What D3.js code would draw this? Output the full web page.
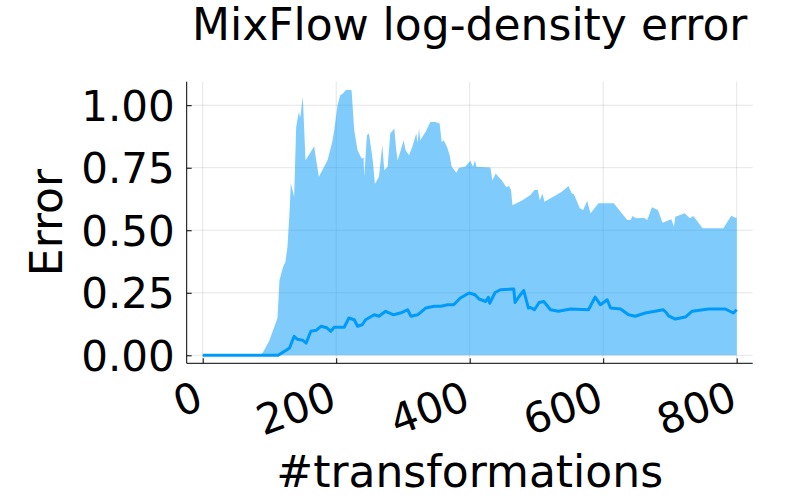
<!DOCTYPE html>
<html>
<head>
<meta charset="utf-8">
<script src="https://cdn.jsdelivr.net/npm/d3@7"></script>
<style>
  body { margin: 0; background: #fff; }
  svg text { font-family: "DejaVu Sans", sans-serif; fill: #000; }
</style>
</head>
<body>
<svg id="chart" width="800" height="500"></svg>
<script>
// data
var bandX = [0, 85, 90, 100, 112, 115, 120, 124, 127, 130, 132, 137, 140, 144, 146, 150, 154, 162, 167, 170, 174, 187, 194, 197, 202, 206, 210, 214, 219, 223, 227, 232, 238, 241, 242, 246, 249, 253, 255, 258, 264, 269, 272, 277, 281, 287, 290, 292, 296, 301, 304, 309, 314, 320, 322, 324, 326, 334, 341, 349, 355, 358, 361, 366, 370, 373, 380, 384, 393, 401, 405, 408, 410, 431, 434, 439, 443, 448, 455, 459, 462, 464, 479, 491, 497, 502, 505, 509, 512, 538, 548, 553, 556, 565, 570, 576, 581, 593, 616, 626, 636, 641, 644, 649, 661, 666, 673, 682, 689, 702, 706, 708, 722, 730, 735, 749, 780, 792, 798, 800];
var bandUpper = [0, 0, 0.01, 0.06, 0.149, 0.30, 0.35, 0.375, 0.435, 0.57, 0.688, 0.634, 0.913, 0.973, 0.95, 1.033, 0.78, 0.814, 0.836, 0.78, 0.714, 0.78, 0.853, 0.9, 1.0, 1.04, 1.047, 1.06, 1.062, 1.06, 0.9, 0.82, 0.787, 0.79, 0.714, 0.88, 0.887, 0.814, 0.774, 0.685, 0.714, 0.84, 0.74, 0.754, 0.887, 0.907, 0.82, 0.78, 0.814, 0.86, 0.82, 0.80, 0.834, 0.887, 0.85, 0.907, 0.86, 0.894, 0.933, 0.933, 0.927, 0.853, 0.86, 0.834, 0.80, 0.754, 0.73, 0.75, 0.754, 0.778, 0.754, 0.78, 0.754, 0.751, 0.70, 0.727, 0.714, 0.70, 0.672, 0.677, 0.66, 0.60, 0.62, 0.641, 0.661, 0.661, 0.62, 0.647, 0.614, 0.654, 0.677, 0.647, 0.645, 0.588, 0.581, 0.618, 0.568, 0.608, 0.608, 0.574, 0.541, 0.541, 0.557, 0.548, 0.55, 0.541, 0.592, 0.581, 0.53, 0.544, 0.515, 0.554, 0.568, 0.548, 0.557, 0.508, 0.508, 0.558, 0.55, 0.55];
var bandLower = bandX.map(function () { return 0; });

var meanX = [0, 113, 120, 125, 130, 137, 142, 150, 155, 162, 170, 177, 186, 192, 197, 212, 219, 227, 232, 239, 244, 257, 264, 274, 286, 296, 307, 312, 322, 334, 347, 357, 367, 376, 386, 399, 408, 414, 424, 428, 430, 438, 446, 466, 468, 474, 481, 488, 491, 497, 504, 511, 521, 533, 551, 578, 588, 596, 606, 611, 626, 638, 648, 663, 690, 695, 698, 708, 723, 733, 758, 783, 795, 800];
var meanY = [0, 0, 0.012, 0.02, 0.029, 0.076, 0.064, 0.06, 0.049, 0.096, 0.1, 0.116, 0.11, 0.096, 0.112, 0.112, 0.149, 0.142, 0.116, 0.122, 0.142, 0.162, 0.156, 0.176, 0.162, 0.169, 0.182, 0.156, 0.162, 0.189, 0.196, 0.196, 0.202, 0.202, 0.229, 0.249, 0.242, 0.225, 0.215, 0.232, 0.208, 0.251, 0.262, 0.265, 0.211, 0.235, 0.259, 0.189, 0.191, 0.182, 0.211, 0.215, 0.182, 0.176, 0.185, 0.182, 0.233, 0.202, 0.222, 0.189, 0.185, 0.162, 0.156, 0.169, 0.182, 0.169, 0.158, 0.145, 0.153, 0.176, 0.185, 0.185, 0.169, 0.182];

var xTicks = [0, 200, 400, 600, 800];
var yTicks = [0, 0.25, 0.5, 0.75, 1.0];

var titleText = "MixFlow log-density error";
var xLabel = "#transformations";
var yLabel = "Error";

var svg = d3.select("#chart"),
    width = +svg.attr("width"),
    height = +svg.attr("height");

// plot area
var plotL = 186.7, plotR = 752.7, plotT = 81.7, plotB = 363.3;
var color = "#009af9";

var x = d3.scaleLinear().domain([-24, 824]).range([plotL, plotR]);
var y = d3.scaleLinear().domain([-0.032, 1.094]).range([plotB, plotT]);

// grid
var grid = svg.append("g").attr("class", "grid");
grid.selectAll("line.gx")
    .data(xTicks)
    .enter().append("line")
    .attr("x1", function (d) { return x(d); })
    .attr("x2", function (d) { return x(d); })
    .attr("y1", plotT).attr("y2", plotB)
    .style("stroke", "#000").style("stroke-opacity", 0.1).style("stroke-width", 1);
grid.selectAll("line.gy")
    .data(yTicks)
    .enter().append("line")
    .attr("x1", plotL).attr("x2", plotR)
    .attr("y1", function (d) { return y(d); })
    .attr("y2", function (d) { return y(d); })
    .style("stroke", "#000").style("stroke-opacity", 0.1).style("stroke-width", 1);

// band
var bandData = bandX.map(function (d, i) { return [d, bandLower[i], bandUpper[i]]; });
svg.append("path")
    .datum(bandData)
    .attr("d", d3.area()
        .x(function (d) { return x(d[0]); })
        .y0(function (d) { return y(d[1]); })
        .y1(function (d) { return y(d[2]); }))
    .attr("fill", color)
    .attr("fill-opacity", 0.5);

// mean line
var meanData = meanX.map(function (d, i) { return [d, meanY[i]]; });
svg.append("path")
    .datum(meanData)
    .attr("d", d3.line()
        .x(function (d) { return x(d[0]); })
        .y(function (d) { return y(d[1]); }))
    .attr("fill", "none")
    .attr("stroke", color)
    .attr("stroke-width", 3)
    .attr("stroke-linejoin", "round");

// axes (ticks point inward like Plots.jl)
var yAxis = svg.append("g")
    .attr("transform", "translate(" + plotL + ",0)")
    .call(d3.axisLeft(y).tickValues(yTicks).tickFormat(d3.format(".2f"))
        .tickSizeInner(-5).tickSizeOuter(0).tickPadding(12));
yAxis.select(".domain").attr("d", "M0," + plotT + "V" + plotB);
yAxis.selectAll("text")
    .attr("font-size", 42)
    .attr("font-family", "DejaVu Sans")
    .attr("dy", "0.36em");

var xAxis = svg.append("g")
    .attr("transform", "translate(0," + plotB + ")")
    .call(d3.axisBottom(x).tickValues(xTicks).tickFormat(d3.format("d"))
        .tickSizeInner(-5).tickSizeOuter(0));
xAxis.select(".domain").attr("d", "M" + plotL + ",0H" + plotR);
xAxis.selectAll("text")
    .attr("font-size", 42)
    .attr("font-family", "DejaVu Sans")
    .attr("text-anchor", "end")
    .attr("x", 0).attr("y", 0).attr("dy", 0)
    .attr("transform", "translate(2,45) rotate(-20)");

svg.selectAll(".domain, .tick line").attr("stroke", "#000").attr("stroke-width", 1);

// labels
svg.append("text")
    .attr("x", (plotL + plotR) / 2)
    .attr("y", 40)
    .attr("text-anchor", "middle")
    .attr("font-size", 44)
    .text(titleText);

svg.append("text")
    .attr("x", (plotL + plotR) / 2)
    .attr("y", 487)
    .attr("text-anchor", "middle")
    .attr("font-size", 44)
    .text(xLabel);

svg.append("text")
    .attr("transform", "translate(61.5," + (plotT + plotB) / 2 + ") rotate(-90)")
    .attr("text-anchor", "middle")
    .attr("font-size", 44)
    .text(yLabel);
</script>
</body>
</html>
